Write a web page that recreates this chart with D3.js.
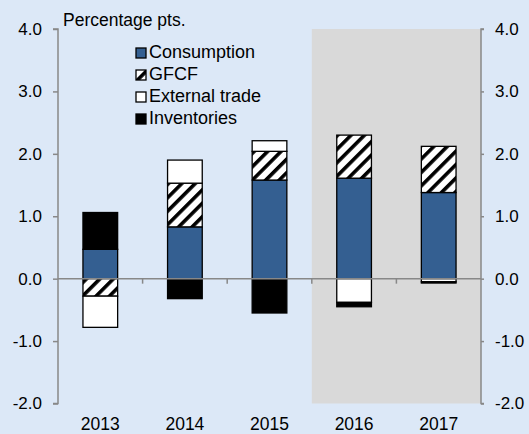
<!DOCTYPE html>
<html><head><meta charset="utf-8">
<script src="https://cdn.jsdelivr.net/npm/d3@7"></script>
<style>body{margin:0;background:#dce8f7;}svg{display:block;font-family:"Liberation Sans",Arial,sans-serif;}</style>
</head><body>
<svg id="c" width="529" height="434"></svg>
<script>
const years = ["2013","2014","2015","2016","2017"];
const consumption = [0.47, 0.83, 1.58, 1.61, 1.38];
const gfcf = [-0.28, 0.70, 0.46, 0.69, 0.74];
const externalTrade = [-0.50, 0.37, 0.17, -0.38, -0.05];
const inventories = [0.59, -0.32, -0.55, -0.07, -0.02];
const yTicks = [-2, -1, 0, 1, 2, 3, 4];
const seriesNames = ["Consumption","GFCF","External trade","Inventories"];
const forecastYears = ["2016","2017"];

(function(){
const svg = d3.select("#c");
const W = 529, H = 434;
const pL = 58, pR = 481, pT = 29, pB = 403.5;
svg.append("rect").attr("width",W).attr("height",H).attr("fill","#dce8f7");

const defs = svg.append("defs");
const pat = defs.append("pattern").attr("id","hatch").attr("patternUnits","userSpaceOnUse")
  .attr("width",9.5).attr("height",9.5).attr("patternTransform","rotate(45)");
pat.append("rect").attr("width",9.5).attr("height",9.5).attr("fill","#fff");
pat.append("rect").attr("x",0).attr("y",0).attr("width",3.6).attr("height",9.5).attr("fill","#000");

const x = d3.scaleBand().domain(years).range([pL,pR]).paddingInner(0.59).paddingOuter(0.295);
const xb = d3.scaleBand().domain(years).range([pL,pR]);
const y = d3.scaleLinear().domain([-2,4]).range([pB,pT]);
const fmt = d3.formatLocale({decimal:".",thousands:",",grouping:[3],currency:["",""],minus:"-"}).format(".1f");

svg.append("rect").attr("x",xb(forecastYears[0])).attr("y",pT)
  .attr("width",pR - xb(forecastYears[0])).attr("height",pB-pT).attr("fill","#d9d9d9");

const rows = years.map((yr,i)=>({year:yr, "Consumption":consumption[i], "GFCF":gfcf[i], "External trade":externalTrade[i], "Inventories":inventories[i]}));
const stack = d3.stack().keys(seriesNames).offset(d3.stackOffsetDiverging);
const layers = stack(rows);
const fills = {"Consumption":"#345f91","GFCF":"url(#hatch)","External trade":"#ffffff","Inventories":"#000000"};

svg.append("g").selectAll("g").data(layers).join("g")
  .attr("fill",d=>fills[d.key])
  .selectAll("rect").data(d=>d).join("rect")
  .attr("x",d=>x(d.data.year)).attr("width",x.bandwidth())
  .attr("y",d=>y(Math.max(d[0],d[1]))).attr("height",d=>Math.abs(y(d[0])-y(d[1])))
  .attr("stroke","#000").attr("stroke-width",1.3);

const axL = svg.append("g").attr("transform",`translate(${pL},0)`)
  .call(d3.axisLeft(y).tickValues(yTicks).tickSize(5).tickFormat(fmt));
const axR = svg.append("g").attr("transform",`translate(${pR},0)`)
  .call(d3.axisRight(y).tickValues(yTicks).tickSize(3).tickFormat(fmt));
[axL,axR].forEach(a=>{
  a.select(".domain").attr("stroke","#888").attr("stroke-width",1.5).attr("d", a===axL?`M-5,${pT}H0V${pB}H-5`:`M3,${pT}H0V${pB}H3`);
  a.selectAll(".tick line").attr("stroke","#888").attr("stroke-width",1.5);
  a.selectAll(".tick text").attr("fill","#000").attr("font-size","17px").attr("font-family","Liberation Sans, Arial, sans-serif");
});
axL.selectAll(".tick text").attr("x",-16);
axR.selectAll(".tick text").attr("x",14);

const zx = svg.append("g").attr("transform",`translate(0,${y(0)})`)
  .call(d3.axisBottom(xb).tickValues(years.slice(1)).tickSize(5).tickFormat(""));
zx.select(".domain").attr("stroke","#888").attr("stroke-width",1.5).attr("d",`M${pL},0H${pR}`);
zx.selectAll(".tick").attr("transform",d=>`translate(${xb(d)},0)`);
zx.selectAll(".tick line").attr("stroke","#888").attr("stroke-width",1.5);

svg.append("g").selectAll("text").data(years).join("text")
  .attr("x",d=>xb(d)+xb.bandwidth()/2).attr("y",430).attr("text-anchor","middle")
  .attr("font-size","17.5px").text(d=>d);

svg.append("text").attr("x",63).attr("y",26).attr("font-size","17.5px").text("Percentage pts.");

const lg = svg.append("g");
seriesNames.forEach((s,i)=>{
  const by = 58 + i*22;
  lg.append("rect").attr("x",136).attr("y",by-10).attr("width",10).attr("height",10)
    .attr("fill", s==="GFCF" ? "url(#hatch)" : fills[s]).attr("stroke","#000").attr("stroke-width",1.3);
  lg.append("text").attr("x",149).attr("y",by).attr("font-size","18px").text(s);
});
})();
</script>
</body></html>
